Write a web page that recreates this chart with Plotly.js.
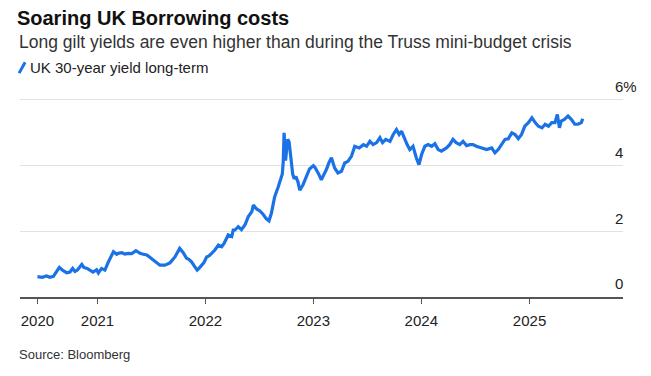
<!DOCTYPE html>
<html>
<head>
<meta charset="utf-8">
<script src="https://cdn.plot.ly/plotly-3.0.1.min.js"></script>
<style>
html,body{margin:0;padding:0;background:#fff;}
#chart{width:651px;height:376px;}
</style>
</head>
<body>
<div id="chart"></div>
<script>
// UK 30-year gilt yield (%)
const dates = [
"2020-06-12","2020-06-28","2020-07-13","2020-07-24","2020-08-05","2020-08-14","2020-08-25","2020-09-07","2020-09-19","2020-09-30",
"2020-10-09","2020-10-17","2020-10-25","2020-11-09","2020-11-16","2020-11-27","2020-12-06","2020-12-17","2020-12-29","2021-01-04",
"2021-01-15","2021-01-26","2021-02-07","2021-02-14","2021-02-24","2021-03-07","2021-03-12","2021-03-24","2021-04-04","2021-04-15",
"2021-04-27","2021-05-11","2021-05-25","2021-06-05","2021-06-17","2021-06-28","2021-07-09","2021-07-20","2021-07-31","2021-08-17",
"2021-09-03","2021-09-20","2021-09-30","2021-10-06","2021-10-18","2021-10-29","2021-11-06","2021-11-15","2021-11-24","2021-12-04",
"2021-12-11","2021-12-19","2021-12-27","2022-01-05","2022-01-13","2022-01-22","2022-02-02","2022-02-14","2022-02-25","2022-03-05",
"2022-03-14","2022-03-19","2022-03-31","2022-04-05","2022-04-11","2022-04-22","2022-05-03","2022-05-15","2022-05-26","2022-06-07",
"2022-06-12","2022-06-23","2022-07-04","2022-07-15","2022-07-26","2022-08-04","2022-08-12","2022-08-18","2022-08-23","2022-09-04",
"2022-09-12","2022-09-18","2022-09-21","2022-09-24","2022-09-29","2022-10-06","2022-10-11","2022-10-15","2022-10-19","2022-10-23",
"2022-10-28","2022-11-03","2022-11-10","2022-11-16","2022-11-27","2022-12-08","2022-12-19","2023-01-01","2023-01-06","2023-01-17",
"2023-01-28","2023-02-05","2023-02-14","2023-02-23","2023-03-03","2023-03-14","2023-03-25","2023-04-06","2023-04-17","2023-04-28",
"2023-05-10","2023-05-21","2023-06-05","2023-06-19","2023-06-30","2023-07-11","2023-07-22","2023-08-03","2023-08-14","2023-08-23",
"2023-09-03","2023-09-17","2023-09-28","2023-10-09","2023-10-18","2023-10-26","2023-11-06","2023-11-14","2023-11-23","2023-12-04",
"2023-12-15","2023-12-24","2024-01-02","2024-01-13","2024-01-24","2024-02-05","2024-02-16","2024-02-27","2024-03-09","2024-03-26",
"2024-04-06","2024-04-17","2024-04-28","2024-05-10","2024-05-21","2024-06-02","2024-06-13","2024-06-24","2024-07-05","2024-07-22",
"2024-08-09","2024-08-26","2024-09-06","2024-09-17","2024-09-28","2024-10-10","2024-10-21","2024-11-02","2024-11-13","2024-11-24",
"2024-12-05","2024-12-16","2024-12-28","2025-01-09","2025-01-20","2025-01-31","2025-02-12","2025-02-23","2025-03-06","2025-03-17",
"2025-03-28","2025-04-05","2025-04-12","2025-04-18","2025-04-29","2025-05-11","2025-05-22","2025-06-03","2025-06-14","2025-06-25",
"2025-06-30"
];
const yields = [
0.62,0.60,0.64,0.60,0.63,0.75,0.90,0.80,0.74,0.76,
0.87,0.78,0.82,0.99,0.90,0.87,0.82,0.76,0.83,0.73,
0.87,0.82,1.07,1.20,1.38,1.30,1.33,1.35,1.31,1.33,
1.32,1.41,1.33,1.30,1.28,1.20,1.12,1.05,0.97,0.97,
1.04,1.22,1.38,1.48,1.35,1.18,1.15,1.07,0.95,0.82,
0.88,0.97,1.05,1.22,1.25,1.33,1.43,1.58,1.53,1.63,
1.84,1.89,1.84,2.04,2.04,2.14,2.05,2.20,2.45,2.60,
2.80,2.68,2.62,2.52,2.38,2.32,2.55,2.85,3.05,3.35,
3.62,3.75,4.10,5.00,4.15,4.80,4.72,4.40,3.88,3.75,
3.60,3.67,3.50,3.25,3.42,3.67,3.90,4.00,3.95,3.78,
3.57,3.72,3.88,4.10,4.24,3.93,3.78,3.83,4.08,4.13,
4.29,4.59,4.54,4.64,4.59,4.74,4.64,4.70,4.85,4.70,
4.80,4.74,4.95,5.10,4.95,5.05,4.80,4.64,4.49,4.59,
4.24,4.03,4.34,4.59,4.64,4.59,4.67,4.49,4.44,4.54,
4.64,4.80,4.70,4.64,4.74,4.61,4.64,4.64,4.59,4.54,
4.49,4.54,4.39,4.49,4.64,4.80,4.82,5.00,4.95,4.82,
4.95,5.20,5.31,5.46,5.31,5.20,5.15,5.26,5.20,5.31,
5.31,5.56,5.15,5.36,5.41,5.51,5.41,5.26,5.26,5.31,
5.43
];
const xTickVals = ["2020-06-12","2021-01-01","2022-01-01","2023-01-01","2024-01-01","2025-01-01"];
const xTickText = ["2020","2021","2022","2023","2024","2025"];
const yTickVals = [0,2,4,6];
const yTickText = ["0","2","4","6%"];

const blue = "#1a72e6";
const font = "Liberation Sans, Arial, sans-serif";

const trace = {
  x: dates, y: yields, type: "scatter", mode: "lines",
  line: {color: blue, width: 3.2},
  hoverinfo: "skip", showlegend: false
};

const layout = {
  width: 651, height: 376,
  margin: {l: 20, r: 28, t: 98, b: 79},
  paper_bgcolor: "#fff", plot_bgcolor: "#fff",
  font: {family: font, color: "#1a1a1a"},
  title: {
    text: "<b>Soaring UK Borrowing costs</b>",
    font: {size: 20, family: font, color: "#111"},
    x: 0.026, xanchor: "left", xref: "container",
    y: 0.952, yanchor: "middle", yref: "container"
  },
  xaxis: {
    type: "date",
    range: ["2020-04-14", "2025-11-13"],
    tickvals: xTickVals, ticktext: xTickText,
    showgrid: false, zeroline: false,
    showline: true, linecolor: "#555", linewidth: 1.5,
    ticks: "outside", ticklen: 5, tickwidth: 1.2, tickcolor: "#555",
    ticklabelstandoff: 4,
    tickfont: {size: 15, family: font, color: "#222"},
    fixedrange: true
  },
  yaxis: {
    range: [0, 6.06],
    side: "right",
    tickvals: yTickVals, ticktext: yTickText,
    showgrid: true, gridcolor: "#e2e2e2", gridwidth: 1,
    zeroline: false, showline: false, ticks: "",
    ticklabelposition: "outside",
    ticklabelstandoff: -9,
    ticklabelshift: -13,
    tickfont: {size: 15, family: font, color: "#222"},
    fixedrange: true
  },
  shapes: [
    {
      type: "line", xref: "paper", yref: "paper",
      x0: -0.0015, y0: 1.125, x1: 0.0085, y1: 1.18,
      line: {color: blue, width: 3}
    }
  ],
  annotations: [
    {
      text: "Long gilt yields are even higher than during the Truss mini-budget crisis",
      xref: "paper", yref: "paper", x: -0.005, y: 1.281,
      xanchor: "left", yanchor: "middle", showarrow: false,
      font: {size: 17.5, family: font, color: "#333"}
    },
    {
      text: "UK 30-year yield long-term",
      xref: "paper", yref: "paper", x: 0.013, y: 1.153,
      xanchor: "left", yanchor: "middle", showarrow: false,
      font: {size: 15, family: font, color: "#222"}
    },
    {
      text: "Source: Bloomberg",
      xref: "paper", yref: "paper", x: -0.005, y: -0.291,
      xanchor: "left", yanchor: "middle", showarrow: false,
      font: {size: 13, family: font, color: "#333"}
    }
  ]
};

Plotly.newPlot("chart", [trace], layout, {displayModeBar: false, staticPlot: true});
</script>
</body>
</html>
